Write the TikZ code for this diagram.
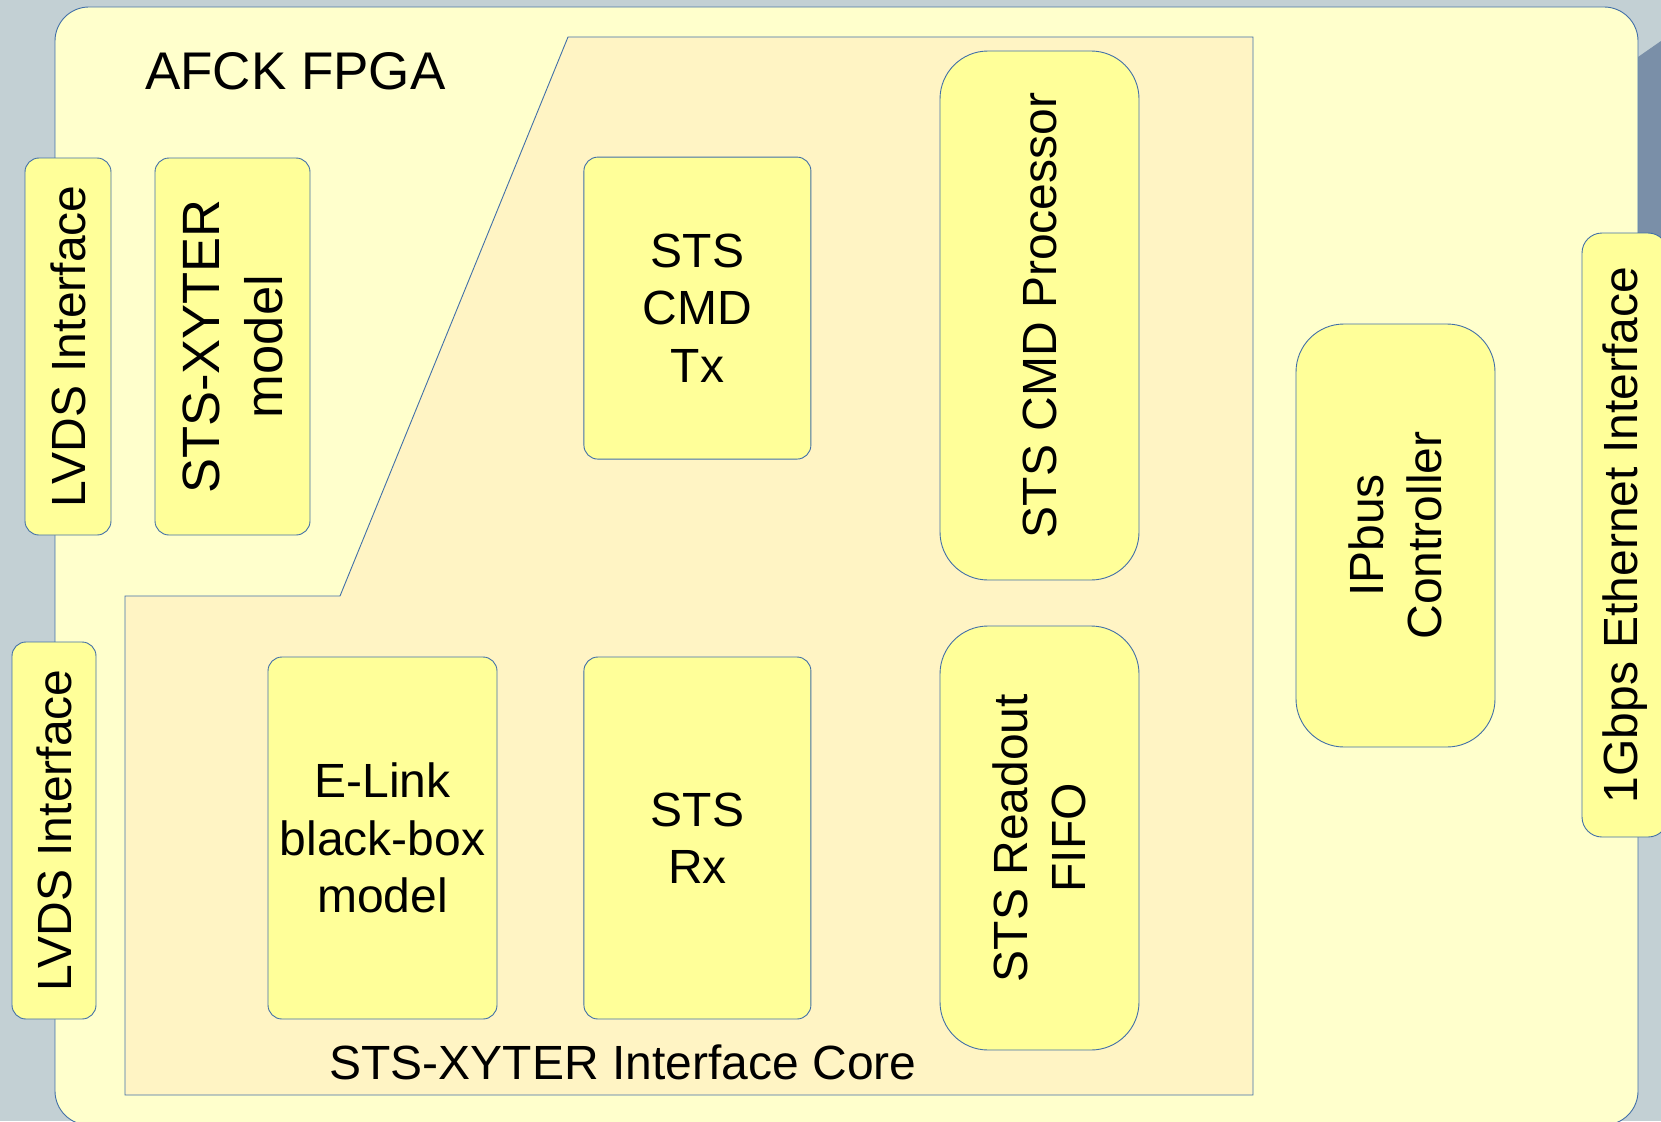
\documentclass[tikz,border=0pt]{standalone}
\usepackage{fontspec}
\setmainfont{Liberation Sans}
\usetikzlibrary{positioning}
\definecolor{bgcol}{RGB}{195,208,212}
\definecolor{shadecol}{RGB}{122,143,168}
\definecolor{fpgacol}{RGB}{255,255,204}
\definecolor{corecol}{RGB}{255,244,196}
\definecolor{blockcol}{RGB}{255,255,153}
\definecolor{edgecol}{RGB}{66,112,168}

\begin{document}
\begin{tikzpicture}[x=1pt,y=-1pt,
  block/.style={draw=edgecol,fill=blockcol,line width=0.9pt,rounded corners=14pt,
                align=center,inner sep=0pt,font=\fontsize{48}{57.5}\selectfont},
  tallblock/.style={block,rounded corners=48pt},
  vblock/.style={block,rotate=90},
  vtallblock/.style={tallblock,rotate=90}]
  \useasboundingbox (0,0) rectangle (1661,1121);
  \fill[bgcol] (0,0) rectangle (1661,1121);
  \fill[shadecol] (1638,57) -- (1661,41) -- (1661,640) -- (1638,640) -- cycle;
  % FPGA and core areas
  \draw[edgecol,fill=fpgacol,line width=0.9pt,rounded corners=34pt] (55,7) rectangle (1638,1125);
  \draw[edgecol,fill=corecol,line width=0.9pt]
    (568,37) -- (1253,37) -- (1253,1095) -- (125,1095) -- (125,596) -- (340,596) -- cycle;
  \node[anchor=base west,inner sep=0pt,font=\fontsize{53}{60}\selectfont] (fpga) at (145,90) {AFCK FPGA};
  \node[anchor=base,inner sep=0pt,font=\fontsize{48}{57.5}\selectfont] (core) at (623,1079) {STS-XYTER Interface Core};
  % blocks
  \node[vblock,minimum width=377pt,minimum height=86pt] (lvdsa) at (68,346.5) {LVDS Interface};
  \node[vblock,font=\fontsize{52.5}{63}\selectfont,minimum width=377pt,minimum height=155pt] (xyter) at (232.5,346.5) {STS-XYTER\\model};
  \node[vblock,minimum width=377pt,minimum height=84pt] (lvdsb) at (54,830.5) {LVDS Interface};
  \node[block,minimum width=229pt,minimum height=362pt] (elink) at (382.5,838) {E-Link\\black-box\\model};
  \node[block,minimum width=227pt,minimum height=362pt,right=86pt of elink] (stsrx) {STS\\Rx};
  \node[block,minimum width=227pt,minimum height=302pt,above=197pt of stsrx] (cmdtx) {STS\\CMD\\Tx};
  \node[vtallblock,minimum width=529pt,minimum height=199pt] (cmdproc) at (1039.5,315.5) {STS CMD Processor};
  \node[vtallblock,minimum width=424pt,minimum height=199pt] (fifo) at (1039.5,838) {STS Readout\\FIFO};
  \node[vtallblock,minimum width=423pt,minimum height=199pt] (ipbus) at (1395.5,535.5) {IPbus\\Controller};
  \node[vblock,rounded corners=20pt,minimum width=604pt,minimum height=86pt] (gbe) at (1625,535) {1Gbps Ethernet Interface};
\end{tikzpicture}
\end{document}
